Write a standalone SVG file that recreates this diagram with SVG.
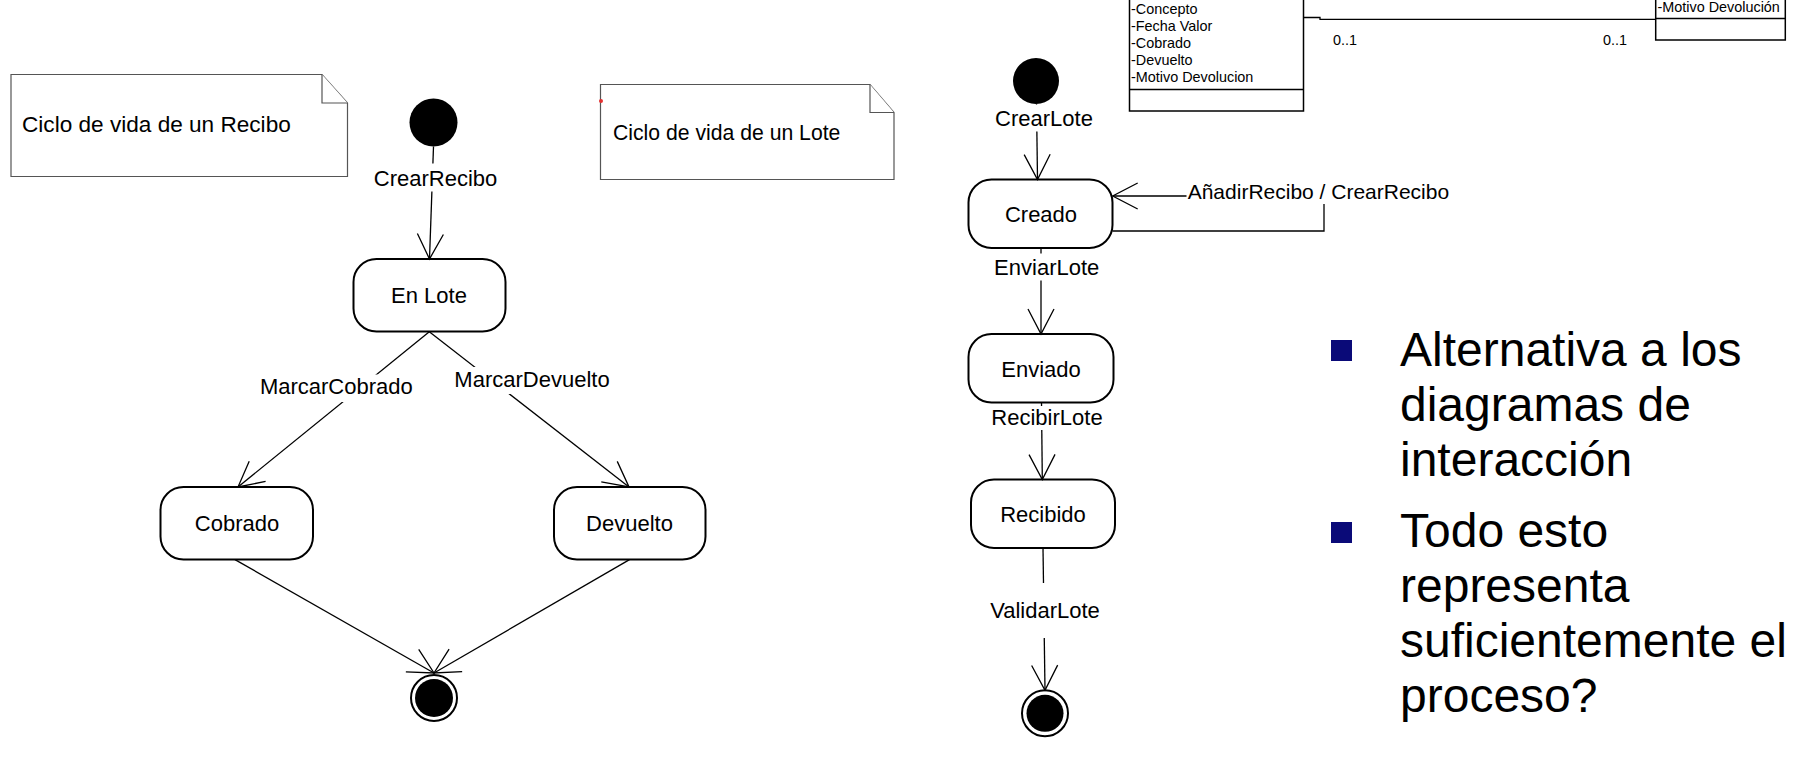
<svg xmlns="http://www.w3.org/2000/svg" width="1798" height="762" viewBox="0 0 1798 762">
<defs>
<style>
text{font-family:"Liberation Sans",Arial,sans-serif;fill:#000}
.lbl{font-size:22px;text-anchor:middle}
.note{fill:#fff;stroke:#555;stroke-width:1.2}
.st{fill:#fff;stroke:#000;stroke-width:2}
.cls{fill:#fff;stroke:#000;stroke-width:1.5}
.ct{font-size:14.4px}
.edge{fill:none;stroke:#000;stroke-width:1.3}
.bg{fill:#fff;stroke:none}
.big{font-size:48px}
.bul{fill:#0a0a78}
</style>
<marker id="open" viewBox="-28 -15 30 30" refX="0" refY="0" markerWidth="30" markerHeight="30" markerUnits="userSpaceOnUse" orient="auto">
<path d="M-25,-13 L0,0 L-25,13" fill="none" stroke="#000" stroke-width="1.3"/>
</marker>
</defs>
<rect width="1798" height="762" fill="#fff"/>

<g id="note-recibo">
<path class="note" d="M11,74.5 H322 L347.5,103 V176.5 H11 Z"/>
<path class="note" d="M322,74.5 V103 H347.5" fill="none"/>
<text x="22" y="132" font-size="22.6">Ciclo de vida de un Recibo</text>
</g>
<g id="note-lote">
<path class="note" d="M600.5,84.5 H870 L894,112.5 V179.5 H600.5 Z"/>
<path class="note" d="M870,84.5 V112.5 H894" fill="none"/>
<circle cx="601" cy="101" r="2" fill="#e53030"/>
<text x="613" y="140" font-size="21.2">Ciclo de vida de un Lote</text>
</g>

<g id="class-recibo">
<rect class="cls" x="1129.5" y="-20" width="174" height="131"/>
<line class="cls" x1="1129.5" y1="89.4" x2="1303.5" y2="89.4"/>
<text class="ct" x="1131" y="14">-Concepto</text>
<text class="ct" x="1131" y="31">-Fecha Valor</text>
<text class="ct" x="1131" y="48">-Cobrado</text>
<text class="ct" x="1131" y="65">-Devuelto</text>
<text class="ct" x="1131" y="82">-Motivo Devolucion</text>
</g>
<g id="class-devolucion">
<rect class="cls" x="1655.7" y="-20" width="129.6" height="60"/>
<line class="cls" x1="1655.7" y1="18.5" x2="1785.3" y2="18.5"/>
<text class="ct" x="1657.5" y="12">-Motivo Devolución</text>
</g>

<g id="init-recibo"><circle cx="433.5" cy="122.5" r="24" fill="#000"/></g>
<g id="st-enlote"><rect class="st" x="353.5" y="259" width="152" height="72.5" rx="23"/><text class="lbl" x="429" y="303">En Lote</text></g>
<g id="st-cobrado"><rect class="st" x="160.5" y="487" width="152.5" height="72.5" rx="23"/><text class="lbl" x="237" y="531">Cobrado</text></g>
<g id="st-devuelto"><rect class="st" x="554" y="487" width="151.5" height="72.5" rx="23"/><text class="lbl" x="629.5" y="531">Devuelto</text></g>
<g id="final-recibo"><circle cx="434" cy="698" r="23" fill="#fff" stroke="#000" stroke-width="2"/><circle cx="434" cy="698" r="19" fill="#000"/></g>

<g id="init-lote"><circle cx="1036" cy="81" r="23" fill="#000"/></g>
<g id="st-creado"><rect class="st" x="968.5" y="179.5" width="144" height="68.5" rx="23"/><text class="lbl" x="1041" y="222">Creado</text></g>
<g id="st-enviado"><rect class="st" x="968.5" y="334" width="145" height="68.5" rx="23"/><text class="lbl" x="1041" y="377">Enviado</text></g>
<g id="st-recibido"><rect class="st" x="971" y="479.5" width="144" height="68.5" rx="23"/><text class="lbl" x="1043" y="522">Recibido</text></g>
<g id="final-lote"><circle cx="1045" cy="713.3" r="23" fill="#fff" stroke="#000" stroke-width="2"/><circle cx="1045" cy="713.3" r="18.5" fill="#000"/></g>

<g id="connectors">
<path class="edge" d="M1303.5,17.5 H1320 V19.3 H1655.7"/>
<text class="ct" x="1333" y="45">0..1</text>
<text class="ct" x="1603" y="45">0..1</text>

<line class="edge" x1="433.5" y1="146.5" x2="429.5" y2="259" marker-end="url(#open)"/>
<rect class="bg" x="370" y="163.5" width="131" height="28"/>
<text class="lbl" x="435.5" y="186">CrearRecibo</text>

<line class="edge" x1="429.3" y1="331.7" x2="238" y2="487" marker-end="url(#open)"/>
<rect class="bg" x="257" y="374.5" width="160" height="27.5"/>
<text class="lbl" x="336.3" y="394">MarcarCobrado</text>

<line class="edge" x1="429.3" y1="331.7" x2="629" y2="487" marker-end="url(#open)"/>
<rect class="bg" x="451" y="367" width="163" height="27"/>
<text class="lbl" x="532" y="387">MarcarDevuelto</text>

<line class="edge" x1="235" y1="559.6" x2="434" y2="673" marker-end="url(#open)"/>
<line class="edge" x1="629.5" y1="559.6" x2="434" y2="673" marker-end="url(#open)"/>

<line class="edge" x1="1036.5" y1="104" x2="1037.5" y2="179.5" marker-end="url(#open)"/>
<rect class="bg" x="994" y="104.5" width="100" height="27"/>
<text class="lbl" x="1044" y="126">CrearLote</text>

<path class="edge" d="M1112.5,231 H1324 V196 H1112.7" marker-end="url(#open)"/>
<rect class="bg" x="1186.5" y="178" width="266" height="26"/>
<text font-size="21" x="1187.7" y="198.5">AñadirRecibo / CrearRecibo</text>

<line class="edge" x1="1041" y1="248" x2="1041" y2="334" marker-end="url(#open)"/>
<rect class="bg" x="990" y="253.5" width="114" height="27"/>
<text class="lbl" x="1046.7" y="275">EnviarLote</text>

<line class="edge" x1="1041.5" y1="402.5" x2="1042.3" y2="479.5" marker-end="url(#open)"/>
<rect class="bg" x="988" y="406" width="118" height="24"/>
<text class="lbl" x="1047" y="425">RecibirLote</text>

<line class="edge" x1="1043" y1="548" x2="1045" y2="690.3" marker-end="url(#open)"/>
<rect class="bg" x="988" y="583" width="114" height="55"/>
<text class="lbl" x="1045" y="618">ValidarLote</text>
</g>

<g id="bullets">
<rect class="bul" x="1331" y="340" width="21" height="21"/>
<text class="big" x="1400" y="366">Alternativa a los</text>
<text class="big" x="1400" y="421">diagramas de</text>
<text class="big" x="1400" y="476">interacción</text>
<rect class="bul" x="1331" y="522" width="21" height="21"/>
<text class="big" x="1400" y="547">Todo esto</text>
<text class="big" x="1400" y="602">representa</text>
<text class="big" x="1400" y="657">suficientemente el</text>
<text class="big" x="1400" y="712">proceso?</text>
</g>
</svg>
